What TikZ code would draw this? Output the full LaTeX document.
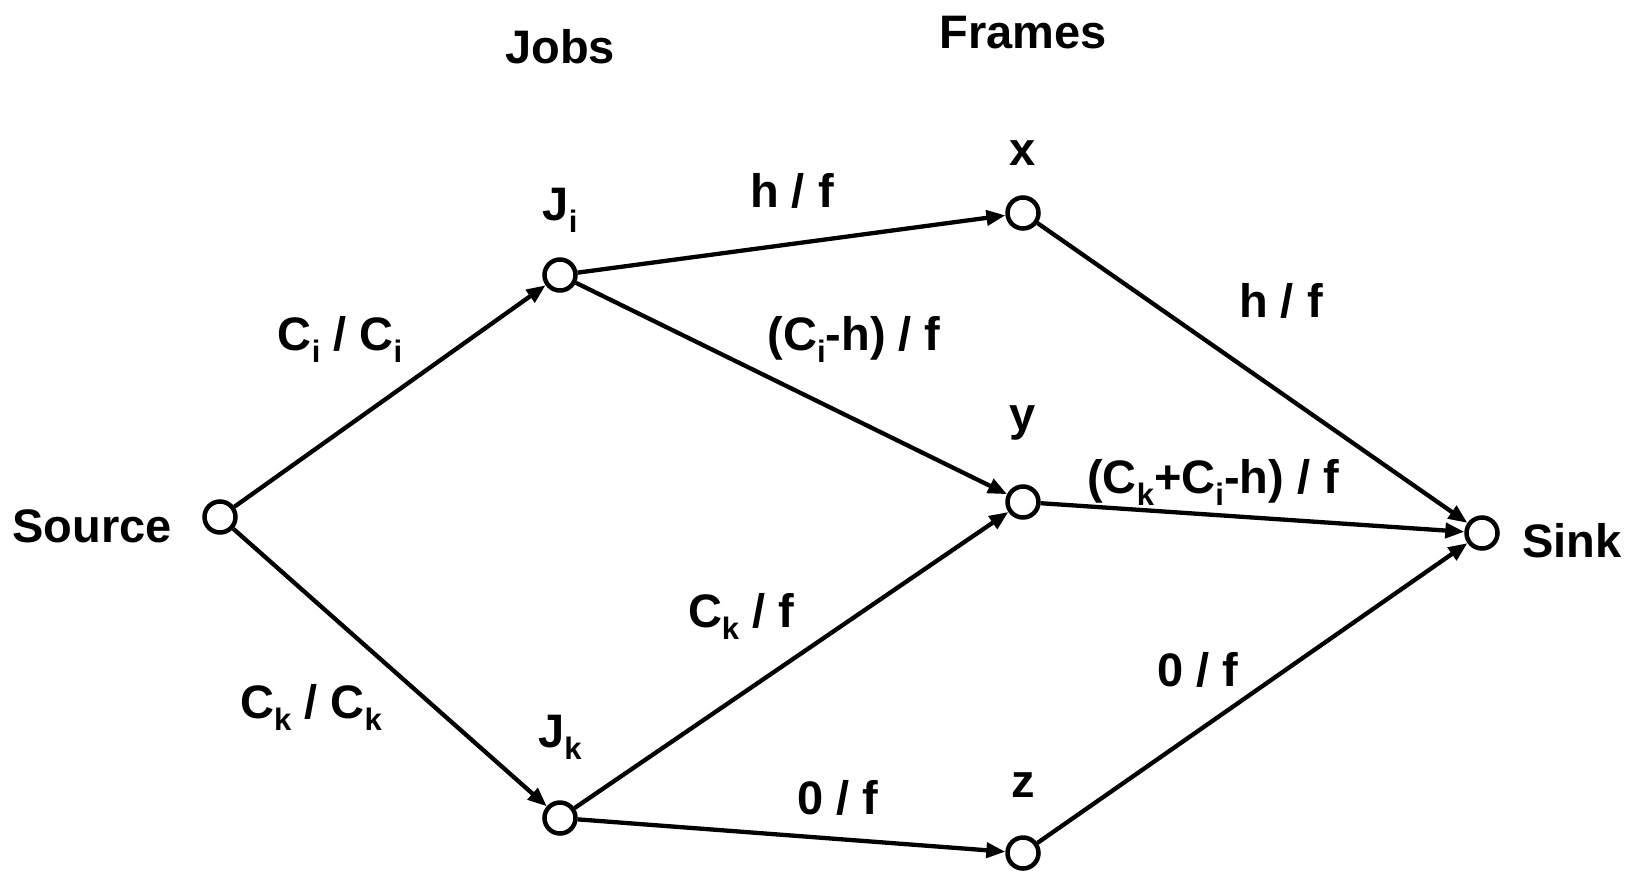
\documentclass[tikz,border=0pt]{standalone}
\usepackage{fontspec}
\setmainfont{Liberation Sans}
\usetikzlibrary{arrows.meta}
\newcommand{\sbs}[1]{\raisebox{-0.26em}{\fontsize{31}{31}\selectfont #1}}
\begin{document}
\begin{tikzpicture}[x=1pt,y=-1pt,
  vtx/.style={circle,draw,line width=4.5pt,minimum size=31pt,inner sep=0pt,fill=white},
  lbl/.style={anchor=base,inner sep=0pt,font=\fontsize{47}{56}\selectfont\bfseries},
  arr/.style={line width=4.3pt,-{Triangle[length=19pt,width=15pt]}}]
\useasboundingbox (0,0) rectangle (1635,871);
% vertices
\node[vtx] (src) at (220,517) {};
\node[vtx] (ji) at (560,275) {};
\node[vtx] (jk) at (560,818) {};
\node[vtx] (x) at (1023,213) {};
\node[vtx] (y) at (1023,502) {};
\node[vtx] (z) at (1023,853) {};
\node[vtx] (snk) at (1482,533) {};
% vertex labels
\node[lbl] (tjobs) at (560,63) {Jobs};
\node[lbl] (tframes) at (1023,48) {Frames};
\node[lbl] (tsrc) at (92,542) {Source};
\node[lbl] (tsnk) at (1572,557) {Sink};
\node[lbl] (tji) at (560,220) {J\sbs{i}};
\node[lbl] (tjk) at (560,747) {J\sbs{k}};
\node[lbl] (tx) at (1023,165) {x};
\node[lbl] (ty) at (1023,430) {y};
\node[lbl] (tz) at (1023,797) {z};
% edges
\draw[arr] (src) -- (ji);
\draw[arr] (src) -- (jk);
\draw[arr] (ji) -- (x);
\draw[arr] (ji) -- (y);
\draw[arr] (jk) -- (y);
\draw[arr] (jk) -- (z);
\draw[arr] (x) -- (snk);
\draw[arr] (y) -- (snk);
\draw[arr] (z) -- (snk);
% edge labels
\node[lbl] (l1) at (340,350) {C\sbs{i} / C\sbs{i}};
\node[lbl] (l2) at (311,718) {C\sbs{k} / C\sbs{k}};
\node[lbl] (l3) at (792,207) {h / f};
\node[lbl] (l4) at (854,350) {(C\sbs{i}-h) / f};
\node[lbl] (l5) at (741,627) {C\sbs{k} / f};
\node[lbl] (l6) at (838,814) {0 / f};
\node[lbl] (l7) at (1281,317) {h / f};
\node[lbl] (l8) at (1213,493) {(C\sbs{k}+C\sbs{i}-h) / f};
\node[lbl] (l9) at (1198,686) {0 / f};
\end{tikzpicture}
\end{document}
